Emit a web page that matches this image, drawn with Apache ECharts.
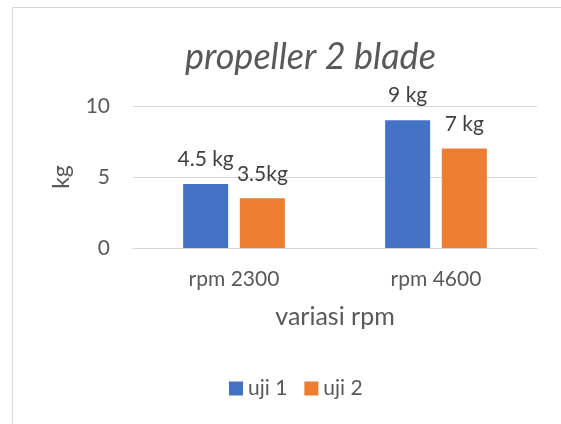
<!doctype html>
<html lang="en">
    <head>
        <meta charset="UTF-8">
        <title>propeller 2 blade</title>
        <style>
            body { margin: 0; background: #fff; }
            #main { position: absolute; left: 0; top: 0; width: 561px; height: 424px; }
            #frame { position: absolute; left: 12px; top: 7px; width: 560px; height: 440px;
                     border: 1px solid #d9d9d9; pointer-events: none; }
        </style>
    </head>
    <body>
        <div id="main"></div>
        <div id="frame"></div>
        <script src="https://cdn.jsdelivr.net/npm/echarts@6/dist/echarts.min.js"></script>
        <script type="text/javascript">
        // data
        var categories = ['rpm 2300', 'rpm 4600'];
        var uji1 = [4.5, 9];
        var uji2 = [3.5, 7];
        var uji1Labels = ['4.5 kg', '9 kg'];
        var uji2Labels = ['3.5kg', '7 kg'];

        var font = 'Lato, "Open Sans", sans-serif';
        var myChart = echarts.init(document.getElementById('main'));

        function labelFrom(list) {
            return {
                show: true,
                position: 'top',
                distance: 14,
                fontFamily: font,
                fontSize: 21,
                color: '#404040',
                formatter: function (p) { return list[p.dataIndex]; }
            };
        }

        var option = {
            animation: false,
            textStyle: { fontFamily: font },
            title: {
                text: 'propeller 2 blade',
                left: 180,
                top: 34,
                textStyle: { fontSize: 36, fontStyle: 'italic', fontWeight: 'normal', color: '#595959', fontFamily: font }
            },
            legend: {
                bottom: 20,
                left: 224,
                itemWidth: 14,
                itemHeight: 14,
                itemGap: 17,
                icon: 'rect',
                textStyle: { fontSize: 21, color: '#595959', fontFamily: font },
                data: ['uji 1', 'uji 2']
            },
            grid: { left: 133, right: 24, top: 106, bottom: 176 },
            xAxis: {
                type: 'category',
                data: categories,
                axisLine: { lineStyle: { color: '#d9d9d9' } },
                axisTick: { show: false },
                axisLabel: { fontSize: 21, color: '#595959', margin: 21 },
                name: 'variasi rpm',
                nameLocation: 'middle',
                nameGap: 56,
                nameTextStyle: { fontSize: 25, color: '#595959' }
            },
            yAxis: {
                type: 'value',
                min: 0,
                max: 10,
                interval: 5,
                axisLine: { show: false },
                axisTick: { show: false },
                splitLine: { lineStyle: { color: '#d9d9d9' } },
                axisLabel: { fontSize: 21, color: '#595959', margin: 23 },
                name: 'kg',
                nameLocation: 'middle',
                nameGap: 60,
                nameTextStyle: { fontSize: 23, color: '#595959' }
            },
            series: [
                {
                    name: 'uji 1',
                    type: 'bar',
                    barWidth: 45,
                    barGap: '26%',
                    itemStyle: { color: '#4472C4' },
                    label: labelFrom(uji1Labels),
                    data: uji1
                },
                {
                    name: 'uji 2',
                    type: 'bar',
                    barWidth: 45,
                    barGap: '26%',
                    itemStyle: { color: '#ED7D31' },
                    label: labelFrom(uji2Labels),
                    data: uji2
                }
            ]
        };
        myChart.setOption(option);
        </script>
    </body>
</html>
